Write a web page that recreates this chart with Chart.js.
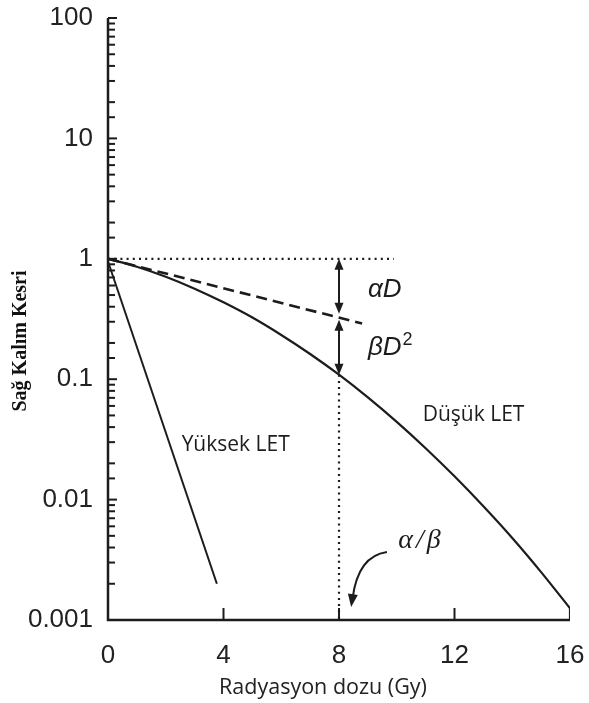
<!DOCTYPE html>
<html>
<head>
<meta charset="utf-8">
<script src="https://cdn.jsdelivr.net/npm/chart.js@4/dist/chart.umd.min.js"></script>
<style>
  html, body { margin: 0; padding: 0; background: #fff; }
  #wrap { width: 589px; height: 703px; }
</style>
</head>
<body>
<div id="wrap"><canvas id="c" width="589" height="703"></canvas></div>
<script>
// Dose axis (Gy) and survival readings
const doses = [0, 1, 2, 3, 4, 5, 6, 7, 8, 9, 10, 11, 12, 13, 14, 15, 16];
const lowLetSurvival = [1, 0.86, 0.71, 0.565, 0.435, 0.325, 0.233, 0.162, 0.109, 0.0706, 0.0442, 0.0267, 0.0156, 0.0088, 0.0048, 0.0025, 0.00125];
const lowLetFootDoses = [16, 16];
const lowLetFootSurvival = [0.00125, 0.001];
const highLetDoses = [0, 3.77];
const highLetSurvival = [0.95, 0.002];
const linearTermDoses = [0, 8.8];
const linearTermSurvival = [1, 0.29];
const unitLineDoses = [0, 9.9];
const unitLineSurvival = [1, 1];
const alphaBetaDoses = [8, 8];
const alphaBetaSurvival = [0.109, 0.001];
// Arrow spans at D = 8: total → linear term → full LQ
const arrowDose = 8;
const arrowLevels = [1, 0.33, 0.109];
const xTickValues = [0, 4, 8, 12, 16];
const yTickLabels = ['0.001', '0.01', '0.1', '1', '10', '100'];

const pts = (xs, ys) => xs.map((x, i) => ({ x: x, y: ys[i] }));
const INK = '#1c1c1c';

const decorations = {
  id: 'decorations',
  afterDraw(chart) {
    const { ctx, scales: { x, y } } = chart;
    const X = v => x.getPixelForValue(v);
    const Y = v => y.getPixelForValue(v);
    ctx.save();

    // axes
    ctx.strokeStyle = INK;
    ctx.lineWidth = 2.5;
    ctx.lineCap = 'butt';
    ctx.beginPath();
    ctx.moveTo(X(0), Y(100));
    ctx.lineTo(X(0), Y(0.001));
    ctx.lineTo(X(16), Y(0.001));
    ctx.stroke();

    // inward ticks on the log axis
    ctx.lineWidth = 2;
    y.ticks.forEach(t => {
      const p = Y(t.value);
      const major = Math.abs(Math.log10(t.value) - Math.round(Math.log10(t.value))) < 1e-6;
      ctx.beginPath();
      ctx.moveTo(X(0), p);
      ctx.lineTo(X(0) + (major ? 9 : 7), p);
      ctx.stroke();
    });
    // inward ticks on the dose axis
    xTickValues.slice(1, -1).forEach(v => {
      ctx.beginPath();
      ctx.moveTo(X(v), Y(0.001));
      ctx.lineTo(X(v), Y(0.001) - 12);
      ctx.stroke();
    });

    // double arrows at D = 8
    const head = (tx, ty, dx, dy, len, half) => {
      const n = Math.hypot(dx, dy); dx /= n; dy /= n;
      ctx.beginPath();
      ctx.moveTo(tx, ty);
      ctx.lineTo(tx - dx * len - dy * half, ty - dy * len + dx * half);
      ctx.lineTo(tx - dx * len + dy * half, ty - dy * len - dx * half);
      ctx.closePath();
      ctx.fill();
    };
    ctx.fillStyle = INK;
    ctx.lineWidth = 2;
    const ax = X(arrowDose);
    for (let i = 0; i < arrowLevels.length - 1; i++) {
      const y1 = Y(arrowLevels[i]) + (i === 0 ? 0 : 3);
      const y2 = Y(arrowLevels[i + 1]) - (i === 0 ? 3 : 0);
      ctx.beginPath();
      ctx.moveTo(ax, y1 + 6);
      ctx.lineTo(ax, y2 - 6);
      ctx.stroke();
      head(ax, y1, 0, -1, 11, 4.5);
      head(ax, y2, 0, 1, 11, 4.5);
    }

    // curved pointer to α/β on the dose axis
    const s = [X(9.66), Y(0.00367)], c = [X(8.66), Y(0.0034)], e = [X(8.42), Y(0.00128)];
    ctx.lineWidth = 2;
    ctx.beginPath();
    ctx.moveTo(s[0], s[1]);
    ctx.quadraticCurveTo(c[0], c[1], e[0] + 1.5, e[1] - 9);
    ctx.stroke();
    head(e[0], e[1], e[0] - c[0], e[1] - c[1], 13, 5);

    // annotations
    ctx.fillStyle = INK;
    ctx.textBaseline = 'middle';
    ctx.textAlign = 'left';
    ctx.font = 'italic 26px "Liberation Sans"';
    ctx.fillText('\u03b1D', X(9.0), Y(0.55));
    ctx.fillText('\u03b2D', X(9.0), Y(0.182));
    const bw = ctx.measureText('\u03b2D').width;
    ctx.font = '18px "Liberation Sans"';
    ctx.fillText('2', X(9.0) + bw + 1, Y(0.182) - 8);

    ctx.font = '21px "Open Sans"';
    ctx.fillText('D\u00fc\u015f\u00fck LET', X(10.9), Y(0.0505));
    ctx.fillText('Y\u00fcksek LET', X(2.55), Y(0.0284));

    // α/β, set with a little extra spacing between glyphs
    ctx.font = 'italic 28px "Liberation Serif"';
    let tx = X(10.05);
    const ty = Y(0.00453);
    ['\u03b1', '/', '\u03b2'].forEach(g => {
      ctx.fillText(g, tx, ty);
      tx += ctx.measureText(g).width + 3;
    });

    // axis titles
    ctx.textAlign = 'center';
    ctx.font = '21.5px "Open Sans"';
    ctx.fillStyle = '#222';
    ctx.fillText('Radyasyon dozu (Gy)', 323, 688);

    ctx.save();
    ctx.translate(26, 341);
    ctx.rotate(-Math.PI / 2);
    ctx.textBaseline = 'alphabetic';
    ctx.font = 'bold 20px "Liberation Serif"';
    ctx.fillStyle = '#111';
    ctx.fillText('Sa\u011f Kal\u0131m Kesri', 0, 0);
    ctx.restore();

    ctx.restore();
  }
};

const solid = (data, w) => ({ data, borderColor: INK, borderWidth: w, pointRadius: 0, fill: false });

new Chart(document.getElementById('c'), {
  type: 'line',
  data: {
    datasets: [
      Object.assign(solid(pts(doses, lowLetSurvival), 2.2), { cubicInterpolationMode: 'monotone', label: 'Düşük LET' }),
      Object.assign(solid(pts(lowLetFootDoses, lowLetFootSurvival), 2.2), { label: 'Düşük LET uç' }),
      Object.assign(solid(pts(highLetDoses, highLetSurvival), 2), { label: 'Yüksek LET' }),
      Object.assign(solid(pts(linearTermDoses, linearTermSurvival), 2.6), { borderDash: [11, 6], label: 'αD' }),
      Object.assign(solid(pts(unitLineDoses, unitLineSurvival), 2.2), { borderDash: [2, 4.2], label: 'S = 1' }),
      Object.assign(solid(pts(alphaBetaDoses, alphaBetaSurvival), 2.2), { borderDash: [2, 4.2], label: 'α/β' })
    ]
  },
  options: {
    responsive: false,
    animation: false,
    events: [],
    layout: { padding: { left: 0, right: 19, top: 18, bottom: 0 } },
    plugins: { legend: { display: false }, tooltip: { enabled: false } },
    scales: {
      x: {
        type: 'linear',
        min: 0, max: 16,
        afterBuildTicks: s => { s.ticks = xTickValues.map(v => ({ value: v })); },
        afterFit: s => { s.height = 83; s.paddingLeft = 0; s.paddingRight = 0; },
        grid: { display: false, drawTicks: false },
        border: { display: false },
        ticks: {
          padding: 20,
          color: '#222',
          font: { family: '"Liberation Sans"', size: 26 },
          maxRotation: 0,
          autoSkip: false
        }
      },
      y: {
        type: 'logarithmic',
        min: 0.001, max: 100,
        afterFit: s => { s.width = 108; s.paddingTop = 0; s.paddingBottom = 0; },
        grid: { display: false, drawTicks: false },
        border: { display: false },
        ticks: {
          padding: 15,
          color: '#222',
          autoSkip: false,
          font: { family: '"Liberation Sans"', size: 26 },
          callback: v => {
            const hit = yTickLabels.find(l => Math.abs(Number(l) - v) < Number(l) * 1e-6);
            return hit || '';
          }
        }
      }
    }
  },
  plugins: [decorations]
});
</script>
</body>
</html>
